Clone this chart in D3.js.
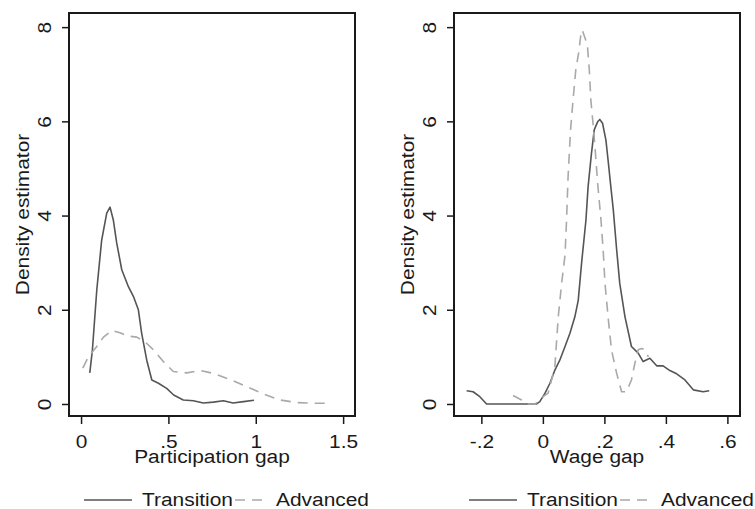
<!DOCTYPE html>
<html>
<head>
<meta charset="utf-8">
<script src="https://cdn.jsdelivr.net/npm/d3@7"></script>
<style>
  body { margin: 0; background: #fff; }
  svg text { font-family: "Liberation Sans", Arial, sans-serif; fill: #1a1a1a; }
</style>
</head>
<body>
<div id="chart"></div>
<script>
// ---- data ----
var seriesNames = ["Transition", "Advanced"];
var yTicks = [0, 2, 4, 6, 8];
var participationTicks = [0, 0.5, 1, 1.5];
var wageTicks = [-0.2, 0, 0.2, 0.4, 0.6];

// participation gap
var partTransitionX = [0.05, 0.065, 0.09, 0.118, 0.147, 0.166, 0.185, 0.204, 0.233, 0.271, 0.3, 0.328, 0.347, 0.376, 0.405, 0.443, 0.49, 0.53, 0.585, 0.643, 0.7, 0.757, 0.815, 0.87, 0.93, 0.99];
var partTransitionY = [0.66, 1.15, 2.42, 3.48, 4.05, 4.18, 3.9, 3.42, 2.85, 2.49, 2.28, 2.0, 1.5, 0.93, 0.51, 0.44, 0.33, 0.19, 0.085, 0.07, 0.02, 0.04, 0.07, 0.02, 0.05, 0.08];
var partAdvancedX = [0.01, 0.042, 0.09, 0.128, 0.176, 0.223, 0.271, 0.319, 0.366, 0.414, 0.471, 0.528, 0.605, 0.681, 0.757, 0.853, 0.948, 1.044, 1.139, 1.235, 1.33, 1.425];
var partAdvancedY = [0.76, 1.0, 1.22, 1.42, 1.56, 1.51, 1.44, 1.42, 1.32, 1.15, 0.9, 0.69, 0.66, 0.71, 0.65, 0.52, 0.37, 0.21, 0.085, 0.03, 0.015, 0.015];

// wage gap
var wageTransitionX = [-0.248, -0.227, -0.205, -0.183, -0.02, -0.01, 0.007, 0.023, 0.039, 0.055, 0.072, 0.088, 0.104, 0.115, 0.126, 0.14, 0.147, 0.158, 0.167, 0.178, 0.185, 0.194, 0.205, 0.212, 0.221, 0.229, 0.24, 0.25, 0.267, 0.288, 0.31, 0.326, 0.348, 0.37, 0.391, 0.413, 0.435, 0.462, 0.489, 0.521, 0.541];
var wageTransitionY = [0.28, 0.26, 0.155, 0.0, 0.0, 0.05, 0.23, 0.44, 0.72, 0.93, 1.22, 1.5, 1.85, 2.2, 3.0, 3.9, 4.61, 5.32, 5.82, 5.99, 6.04, 5.96, 5.6, 5.18, 4.61, 4.12, 3.27, 2.56, 1.85, 1.22, 1.08, 0.9, 0.97, 0.81, 0.81, 0.71, 0.64, 0.51, 0.30, 0.26, 0.28];
var wageAdvancedX = [-0.097, -0.069, -0.048, -0.026, -0.015, 0.001, 0.017, 0.039, 0.05, 0.061, 0.072, 0.077, 0.082, 0.09, 0.099, 0.107, 0.117, 0.124, 0.128, 0.139, 0.145, 0.151, 0.156, 0.164, 0.171, 0.178, 0.185, 0.189, 0.196, 0.202, 0.212, 0.223, 0.24, 0.256, 0.272, 0.288, 0.299, 0.31, 0.321, 0.332, 0.343];
var wageAdvancedY = [0.18, 0.085, 0.0, 0.0, 0.05, 0.155, 0.23, 0.79, 1.85, 2.56, 3.16, 3.9, 4.83, 5.82, 6.52, 7.09, 7.48, 7.87, 7.94, 7.73, 7.59, 7.09, 6.45, 5.89, 5.32, 4.69, 4.19, 3.9, 3.27, 2.56, 1.85, 1.15, 0.65, 0.26, 0.26, 0.51, 0.86, 1.15, 1.18, 1.15, 1.0];

(function() {
  // ---- layout ----
  var width = 755, height = 509;
  var plotTop = 13, plotBottom = 416;
  var boxW = 286;
  var fontSize = 19, stretch = 1.1;
  var yDomain = [-0.255, 8.3];

  function zip(xs, ys) { return xs.map(function(x, i) { return [x, ys[i]]; }); }

  var panels = [
    { left: 69, xDomain: [-0.069, 1.568], ticks: participationTicks, title: "Participation gap",
      lines: [zip(partTransitionX, partTransitionY), zip(partAdvancedX, partAdvancedY)] },
    { left: 454, xDomain: [-0.289, 0.641], ticks: wageTicks, title: "Wage gap",
      lines: [zip(wageTransitionX, wageTransitionY), zip(wageAdvancedX, wageAdvancedY)] }
  ];

  var styles = [
    { stroke: "#555", dash: null },
    { stroke: "#a9a9a9", dash: "10,7" }
  ];

  var fmt = function(d) { return String(d).replace("0.", "."); };

  var svg = d3.select("#chart").append("svg")
    .attr("width", width)
    .attr("height", height)
    .style("font-size", fontSize + "px");

  panels.forEach(function(p) {
    var x = d3.scaleLinear().domain(p.xDomain).range([p.left, p.left + boxW]);
    var y = d3.scaleLinear().domain(yDomain).range([plotBottom, plotTop]);
    var g = svg.append("g");

    // x axis
    var xa = g.append("g")
      .attr("transform", "translate(0," + plotBottom + ")")
      .call(d3.axisBottom(x).tickValues(p.ticks).tickFormat(fmt).tickSize(8).tickPadding(11));
    xa.select(".domain").remove();
    xa.selectAll(".tick line").attr("stroke", "#1a1a1a").attr("stroke-width", 1.5);
    xa.selectAll(".tick text").attr("font-size", fontSize).attr("fill", "#1a1a1a")
      .attr("transform", "scale(" + stretch + ",1)");

    // y axis
    var ya = g.append("g")
      .attr("transform", "translate(" + p.left + ",0)")
      .call(d3.axisLeft(y).tickValues(yTicks).tickSize(7));
    ya.select(".domain").remove();
    ya.selectAll(".tick line").attr("stroke", "#1a1a1a").attr("stroke-width", 1.5);
    ya.selectAll(".tick text")
      .attr("font-size", fontSize).attr("fill", "#1a1a1a")
      .attr("x", 0).attr("dy", 0)
      .attr("text-anchor", "middle")
      .attr("transform", "translate(-18,0) rotate(-90) scale(" + stretch + ",1)");

    // density curves
    var line = d3.line().x(function(d) { return x(d[0]); }).y(function(d) { return y(d[1]); });
    p.lines.forEach(function(pts, i) {
      g.append("path")
        .datum(pts)
        .attr("d", line)
        .attr("fill", "none")
        .attr("stroke", styles[i].stroke)
        .attr("stroke-width", 1.6)
        .attr("stroke-dasharray", styles[i].dash)
        .attr("stroke-linejoin", "round");
    });

    // plot box
    g.append("rect")
      .attr("x", p.left).attr("y", plotTop)
      .attr("width", boxW).attr("height", plotBottom - plotTop)
      .attr("fill", "none").attr("stroke", "#1a1a1a").attr("stroke-width", 2);

    // titles
    g.append("text")
      .attr("transform", "translate(" + (p.left + boxW / 2) + "," + (plotBottom + 47) + ") scale(" + stretch + ",1)")
      .attr("text-anchor", "middle")
      .text(p.title);
    g.append("text")
      .attr("transform", "translate(" + (p.left - 40) + "," + ((plotTop + plotBottom) / 2) + ") rotate(-90) scale(" + stretch + ",1)")
      .attr("text-anchor", "middle")
      .text("Density estimator");

    // legend
    var lg = g.append("g").attr("transform", "translate(" + p.left + ",0)");
    lg.append("line").attr("x1", 15).attr("x2", 63).attr("y1", 500).attr("y2", 500)
      .attr("stroke", styles[0].stroke).attr("stroke-width", 1.6);
    lg.append("text").attr("transform", "translate(73,506) scale(" + stretch + ",1)").text(seriesNames[0]);
    lg.append("line").attr("x1", 166).attr("x2", 193).attr("y1", 500).attr("y2", 500)
      .attr("stroke", styles[1].stroke).attr("stroke-width", 1.6).attr("stroke-dasharray", styles[1].dash);
    lg.append("text").attr("transform", "translate(207,506) scale(" + stretch + ",1)").text(seriesNames[1]);
  });
})();
</script>
</body>
</html>
